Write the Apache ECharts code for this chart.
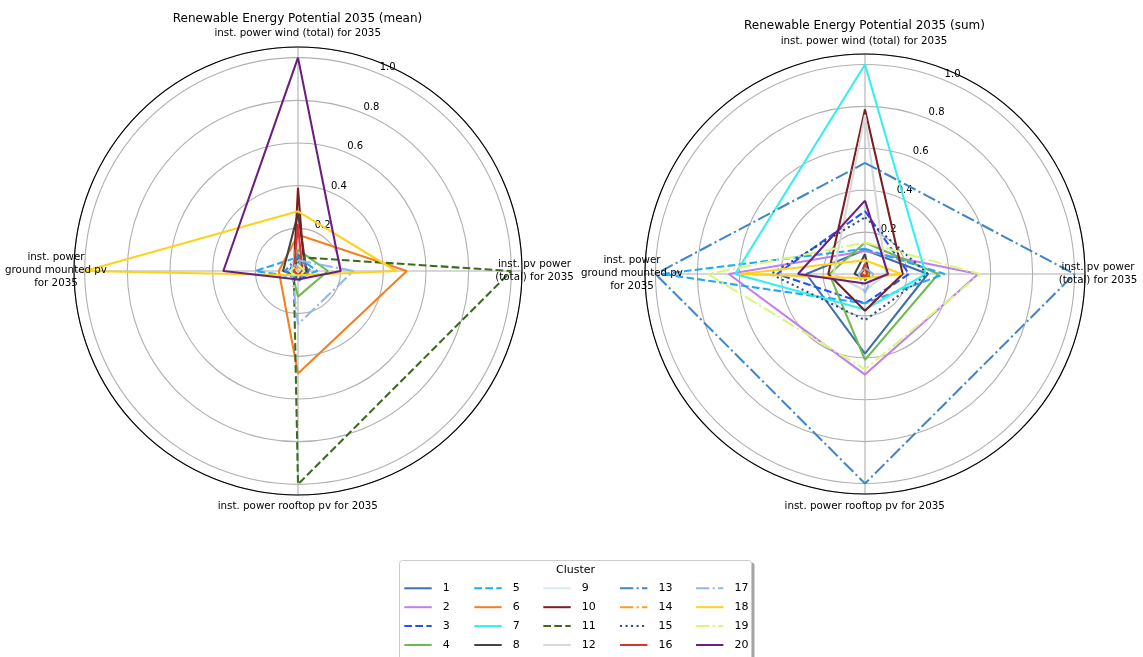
<!DOCTYPE html>
<html>
<head>
<meta charset="utf-8">
<script src="https://cdn.jsdelivr.net/npm/echarts@6/dist/echarts.min.js"></script>
<style>
html,body{margin:0;padding:0;background:#fff;}
#chart{width:1143px;height:657px;}
</style>
</head>
<body>
<div id="chart"></div>
<script>
// ---- data ----
const categories = ['inst. power wind (total) for 2035', 'inst. pv power\n(total) for 2035', 'inst. power rooftop pv for 2035', 'inst. power\nground mounted pv\nfor 2035'];
const categoryAngles = [0, 90, 180, 270];
const clusterNames = ['1','2','3','4','5','6','7','8','9','10','11','12','13','14','15','16','17','18','19','20'];
const tickValues = [0.2, 0.4, 0.6, 0.8, 1.0];
const tickLabels = ['0.2', '0.4', '0.6', '0.8', '1.0'];

// mean chart (cluster 1..20)
const meanWind    = [0.08, 0.03, 0.05, 0.10, 0.065, 0.17, 0.06, 0.27, 0.02, 0.39, 0.065, 0.15, 0.07, 0.02, 0.05, 0.22, 0.05, 0.28, 0.03, 1.00];
const meanPvTotal = [0.05, 0.04, 0.03, 0.14, 0.09, 0.51, 0.03, 0.04, 0.02, 0.03, 1.00, 0.03, 0.06, 0.03, 0.04, 0.02, 0.26, 0.46, 0.03, 0.20];
const meanRooftop = [0.03, 0.03, 0.03, 0.12, 0.03, 0.48, 0.02, 0.02, 0.02, 0.02, 1.00, 0.02, 0.05, 0.02, 0.04, 0.02, 0.25, 0.02, 0.03, 0.04];
const meanGround  = [0.04, 0.03, 0.04, 0.03, 0.20, 0.09, 0.03, 0.07, 0.02, 0.02, 0.02, 0.03, 0.06, 0.02, 0.03, 0.02, 0.03, 1.00, 0.04, 0.35];

// sum chart (cluster 1..20)
const sumWind    = [0.115, 0.11, 0.30, 0.15, 0.12, 0.02, 1.00, 0.095, 0.01, 0.785, 0.03, 0.76, 0.53, 0.01, 0.27, 0.05, 0.03, 0.066, 0.15, 0.35];
const sumPvTotal = [0.30, 0.54, 0.21, 0.35, 0.38, 0.02, 0.29, 0.02, 0.01, 0.18, 0.03, 0.10, 1.00, 0.02, 0.30, 0.01, 0.04, 0.175, 0.55, 0.11];
const sumRooftop = [0.38, 0.48, 0.14, 0.41, 0.14, 0.02, 0.17, 0.02, 0.01, 0.175, 0.03, 0.08, 1.00, 0.01, 0.22, 0.01, 0.09, 0.02, 0.455, 0.045];
const sumGround  = [0.28, 0.65, 0.42, 0.17, 0.97, 0.02, 0.62, 0.05, 0.01, 0.175, 0.02, 0.15, 1.00, 0.01, 0.45, 0.02, 0.03, 0.60, 0.75, 0.32];

// ---- styles ----
const colors = ['#3f6fae','#c07ef0','#2353f5','#6dbb4f','#23a9f2','#f57f1f','#33f0f0','#444444','#d4ebf2','#7a1f1f',
                '#3c6a1e','#d8d8d8','#4386c6','#f5a020','#2c4e82','#d83232','#92b8e6','#ffd21a','#d9f77e','#6b1f7c'];
const dashKinds = ['solid','solid','dashed','solid','dashed','solid','solid','solid','solid','solid',
                   'dashed','solid','dashdot','dashdot','dotted','solid','dashdot','solid','dashdot','solid'];
const dashMap = { solid: 'solid', dashed: [7.7, 3.3], dashdot: [13.3, 3.3, 2.1, 3.3], dotted: [2.1, 3.4] };
const FONT = 'DejaVu Sans';
const LW = 2.08;
const GRID = { color: '#b0b0b0', width: 1.1 };

const L = { cx: 298, cy: 271, R: 224 };
const Rt = { cx: 865, cy: 274, R: 220 };
const RMAX = 1.05;

function buildSeries(cols, polarIndex) {
  return clusterNames.map((name, i) => {
    const pts = categoryAngles.map((a, k) => [cols[k][i], a]);
    pts.push([cols[0][i], categoryAngles[0]]);
    return {
      name: name, type: 'line', coordinateSystem: 'polar', polarIndex: polarIndex,
      symbol: 'none', showSymbol: false, animation: false, silent: true,
      emphasis: { disabled: true },
      lineStyle: { color: colors[i], width: LW, type: dashMap[dashKinds[i]], cap: 'butt' },
      itemStyle: { color: colors[i] },
      data: pts
    };
  });
}

function mainPolar(c) {
  return { center: [c.cx, c.cy], radius: c.R };
}
function mainAngle(pi) {
  return {
    polarIndex: pi, type: 'value', min: 0, max: 360, interval: 90, startAngle: 90, clockwise: true,
    axisLine: { show: true, lineStyle: { color: '#000', width: 1.1 } },
    axisTick: { show: false }, axisLabel: { show: false },
    splitLine: { show: true, lineStyle: GRID }
  };
}
function mainRadius(pi) {
  return {
    polarIndex: pi, type: 'value', min: 0, max: RMAX, interval: 0.2,
    axisLine: { show: false }, axisTick: { show: false }, axisLabel: { show: false },
    splitLine: { show: true, lineStyle: GRID }
  };
}
function labelAngle(pi) {
  return { polarIndex: pi, type: 'value', min: 0, max: 360, startAngle: 67.6, show: false };
}
function labelRadius(pi) {
  return {
    polarIndex: pi, type: 'value', min: 0, max: 1.0, interval: 0.2,
    axisLine: { show: false }, axisTick: { show: false }, splitLine: { show: false },
    axisLabel: {
      show: true, margin: 0, align: 'center', verticalAlign: 'middle',
      fontSize: 10, fontFamily: FONT, color: '#000',
      formatter: function (v) {
        const k = tickValues.findIndex(t => Math.abs(t - v) < 1e-6);
        return k < 0 ? '' : tickLabels[k];
      }
    }
  };
}

function txt(text, x, y, size) {
  return { type: 'text', x: x, y: y, z: 10, silent: true,
    style: { text: text, fontSize: size, fontFamily: FONT, fill: '#000', align: 'center', verticalAlign: 'middle', lineHeight: Math.round(size * 1.3) } };
}

const legendCols = [['1','2','3','4'], ['5','6','7','8'], ['9','10','11','12'], ['13','14','15','16'], ['17','18','19','20']];
const legendX = [403.3, 473.3, 542.3, 619, 695];

const option = {
  backgroundColor: '#fff',
  animation: false,
  polar: [
    mainPolar(L), mainPolar(Rt),
    { center: [L.cx + 8.4, L.cy - 6.0], radius: L.R / RMAX },
    { center: [Rt.cx + 7.7, Rt.cy - 6.2], radius: Rt.R / RMAX }
  ],
  angleAxis: [mainAngle(0), mainAngle(1), labelAngle(2), labelAngle(3)],
  radiusAxis: [mainRadius(0), mainRadius(1), labelRadius(2), labelRadius(3)],
  legend: legendCols.map((names, c) => ({
    data: names, orient: 'vertical', left: legendX[c], top: 581.3, padding: 0,
    itemWidth: 27.4, itemHeight: 14, itemGap: 4.9, selectedMode: false, z: 5,
    itemStyle: { opacity: 0, borderWidth: 0 },
    textStyle: { fontSize: 11, fontFamily: FONT, color: '#000', padding: [0, 0, 0, 6], lineHeight: 14 }
  })),
  graphic: [
    { type: 'rect', z: 1, silent: true, shape: { x: 401.5, y: 562.5, width: 353, height: 110, r: 3 }, style: { fill: 'rgba(0,0,0,0.35)' } },
    { type: 'rect', z: 2, silent: true, shape: { x: 399.5, y: 560.5, width: 352, height: 110, r: 3 }, style: { fill: '#fff', stroke: '#cccccc', lineWidth: 1 } },
    txt('Cluster', 575.5, 570, 11),
    txt('Renewable Energy Potential 2035 (mean)', 297.5, 19, 12),
    txt('Renewable Energy Potential 2035 (sum)', 864.5, 26.3, 12),
    txt(categories[0], 297.7, 33.5, 10.3),
    txt(categories[1], 534.5, 270.5, 10.3),
    txt(categories[2], 297.8, 506, 10.3),
    txt(categories[3], 56, 270.5, 10.3),
    txt(categories[0], 864, 41.5, 10.3),
    txt(categories[1], 1098, 273.7, 10.3),
    txt(categories[2], 864.7, 506, 10.3),
    txt(categories[3], 632, 273.5, 10.3)
  ],
  series: buildSeries([meanWind, meanPvTotal, meanRooftop, meanGround], 0)
    .concat(buildSeries([sumWind, sumPvTotal, sumRooftop, sumGround], 1))
};

const chart = echarts.init(document.getElementById('chart'), null, { renderer: 'canvas' });
chart.setOption(option);
</script>
</body>
</html>
